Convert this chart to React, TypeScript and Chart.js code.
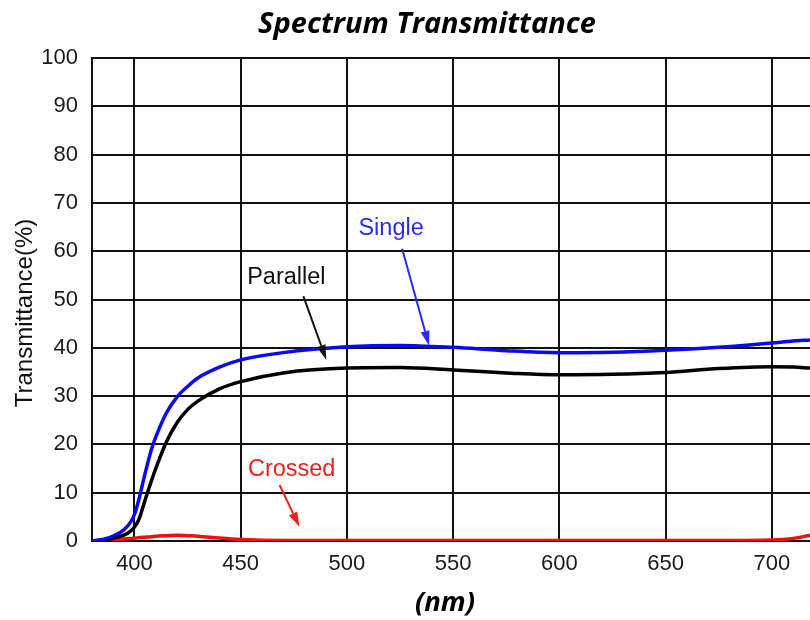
import React, { useEffect, useRef } from "react";
import { Chart, registerables } from "chart.js";

Chart.register(...registerables);

const chartTitle = "Spectrum Transmittance";
const xAxisTitle = "(nm)";
const yAxisTitle = "Transmittance(%)";

const wavelengths = [380, 385, 390, 395, 398, 400, 402, 405, 408, 410, 415, 420, 425, 430, 440, 450, 470, 500, 525, 550, 575, 600, 625, 650, 675, 700, 710, 718];
const singleValues = [0, 0.3, 1.0, 2.3, 3.8, 5.5, 8.5, 14, 19, 21.5, 26.5, 29.8, 32, 33.8, 36, 37.5, 39, 40.2, 40.5, 40.1, 39.4, 39.0, 39.1, 39.5, 40.1, 41.0, 41.4, 41.6];
const parallelValues = [0, 0.2, 0.6, 1.2, 2.0, 2.9, 4.4, 8.5, 12.5, 15, 20.5, 24.5, 27.2, 29, 31.5, 33, 34.8, 35.8, 35.9, 35.4, 34.8, 34.4, 34.5, 34.9, 35.7, 36.1, 36.0, 35.8];
const crossedValues = [0, 0.1, 0.2, 0.4, 0.5, 0.6, 0.7, 0.8, 0.9, 1.0, 1.1, 1.2, 1.1, 1.0, 0.6, 0.3, 0.1, 0.1, 0.1, 0.1, 0.1, 0.1, 0.1, 0.1, 0.1, 0.2, 0.5, 1.2];

const xTickValues = [400, 450, 500, 550, 600, 650, 700];

const seriesNames = ["Single", "Parallel", "Crossed"];
const seriesColors = ["#0a0af0", "#000000", "#f01010"];
const labelColors = ["#2a2af0", "#111111", "#f02020"];
const labelX = [520.8, 471.5, 474];
const labelY = [64.6, 54.5, 14.7];
const arrowFromX = [526, 479.5, 468.3];
const arrowFromY = [60.5, 50.7, 11.6];
const arrowToX = [538.7, 490.3, 477.7];
const arrowToY = [40.4, 37.5, 2.9];

const toPoints = (vals: number[]) => wavelengths.map((w, i) => ({ x: w, y: vals[i] }));

const textPlugin = {
  id: "textPlugin",
  afterDraw(chart: any) {
    const ctx = chart.ctx;
    const xs = chart.scales.x;
    const ys = chart.scales.y;
    ctx.save();
    for (let i = 0; i < seriesNames.length; i++) {
      ctx.fillStyle = labelColors[i];
      ctx.strokeStyle = labelColors[i];
      ctx.font = '23.5px "Liberation Sans", Arial, sans-serif';
      ctx.textAlign = "center";
      ctx.textBaseline = "middle";
      ctx.fillText(seriesNames[i], xs.getPixelForValue(labelX[i]), ys.getPixelForValue(labelY[i]));
      const x1 = xs.getPixelForValue(arrowFromX[i]);
      const y1 = ys.getPixelForValue(arrowFromY[i]);
      const x2 = xs.getPixelForValue(arrowToX[i]);
      const y2 = ys.getPixelForValue(arrowToY[i]);
      const ang = Math.atan2(y2 - y1, x2 - x1);
      const headLen = 15;
      const headW = 4.5;
      const bx = x2 - headLen * Math.cos(ang);
      const by = y2 - headLen * Math.sin(ang);
      ctx.lineWidth = 2;
      ctx.beginPath();
      ctx.moveTo(x1, y1);
      ctx.lineTo(bx, by);
      ctx.stroke();
      ctx.beginPath();
      ctx.moveTo(x2, y2);
      ctx.lineTo(bx + headW * Math.sin(ang), by - headW * Math.cos(ang));
      ctx.lineTo(bx - headW * Math.sin(ang), by + headW * Math.cos(ang));
      ctx.closePath();
      ctx.fill();
    }
    ctx.fillStyle = "#000";
    ctx.textAlign = "center";
    ctx.textBaseline = "middle";
    ctx.font = 'italic bold 29px "Open Sans", sans-serif';
    ctx.fillText(chartTitle, 427, 25);
    ctx.font = 'italic bold 27.5px "Open Sans", sans-serif';
    ctx.fillText(xAxisTitle, 445, 603);
    ctx.translate(25, 313);
    ctx.rotate(-Math.PI / 2);
    ctx.fillStyle = "#111";
    ctx.font = '24px "Liberation Sans", Arial, sans-serif';
    ctx.fillText(yAxisTitle, 0, 0);
    ctx.restore();
  },
};

export default function App() {
  const ref = useRef<HTMLCanvasElement | null>(null);
  useEffect(() => {
    if (!ref.current) return;
    const chart = new Chart(ref.current, {
      type: "line",
      data: {
        datasets: [
          { label: seriesNames[0], data: toPoints(singleValues), borderColor: seriesColors[0], borderWidth: 3.5, pointRadius: 0, cubicInterpolationMode: "monotone", fill: false },
          { label: seriesNames[1], data: toPoints(parallelValues), borderColor: seriesColors[1], borderWidth: 3.5, pointRadius: 0, cubicInterpolationMode: "monotone", fill: false },
          { label: seriesNames[2], data: toPoints(crossedValues), borderColor: seriesColors[2], borderWidth: 3.5, pointRadius: 0, cubicInterpolationMode: "monotone", fill: false },
        ],
      },
      options: {
        animation: false,
        responsive: true,
        maintainAspectRatio: false,
        layout: { padding: { top: 58, left: 0, right: 0, bottom: 0 } },
        plugins: { legend: { display: false }, title: { display: false }, tooltip: { enabled: false } },
        scales: {
          x: {
            type: "linear",
            min: 380,
            max: 718,
            afterBuildTicks: (s: any) => { s.ticks = xTickValues.map((v) => ({ value: v })); },
            afterFit: (s: any) => { s.height = 79; },
            ticks: { color: "#1a1a1a", font: { family: '"Liberation Sans", Arial, sans-serif', size: 22 }, padding: 10, maxRotation: 0, autoSkip: false },
            grid: { color: "#111", lineWidth: 2, drawTicks: false },
            border: { display: true, color: "#111", width: 2 },
          },
          y: {
            min: 0,
            max: 100,
            afterFit: (s: any) => { s.width = 92; },
            ticks: { stepSize: 10, color: "#1a1a1a", font: { family: '"Liberation Sans", Arial, sans-serif', size: 22 }, padding: 14 },
            grid: { color: "#111", lineWidth: 2, drawTicks: false },
            border: { display: true, color: "#111", width: 2 },
          },
        },
      },
      plugins: [textPlugin],
    });
    return () => chart.destroy();
  }, []);
  return (
    <div style={{ position: "fixed", left: 0, top: 0, width: 810, height: 620, background: "#fff" }}>
      <canvas ref={ref} />
    </div>
  );
}
